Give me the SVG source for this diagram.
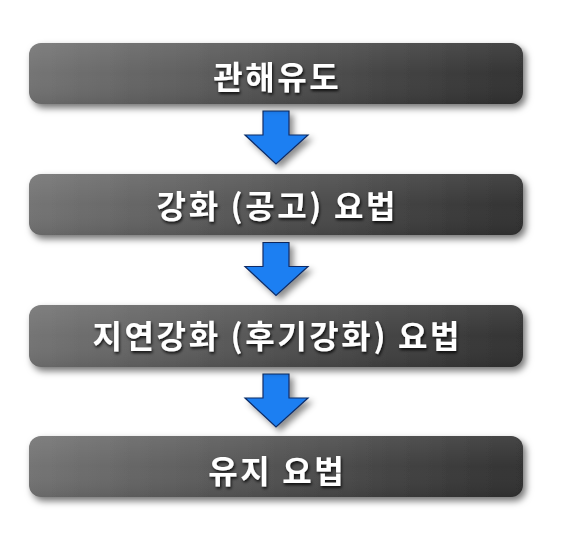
<svg xmlns="http://www.w3.org/2000/svg" width="567" height="555" viewBox="0 0 567 555">
  <defs>
    <linearGradient id="boxGrad" x1="0" y1="0" x2="1" y2="0">
      <stop offset="0" stop-color="#727272"/>
      <stop offset="0.5" stop-color="#505050"/>
      <stop offset="1" stop-color="#2f2f2f"/>
    </linearGradient>
    <linearGradient id="boxSheen" x1="0" y1="0" x2="0" y2="1">
      <stop offset="0" stop-color="#ffffff" stop-opacity="0.10"/>
      <stop offset="0.5" stop-color="#ffffff" stop-opacity="0.02"/>
      <stop offset="1" stop-color="#000000" stop-opacity="0.08"/>
    </linearGradient>
    <filter id="boxShadow" x="-5%" y="-20%" width="112%" height="150%">
      <feDropShadow dx="3" dy="4" stdDeviation="3.5" flood-color="#000" flood-opacity="0.55"/>
    </filter>
    <filter id="arrowShadow" x="-30%" y="-30%" width="170%" height="170%">
      <feDropShadow dx="4" dy="4" stdDeviation="3" flood-color="#000" flood-opacity="0.45"/>
    </filter>
    <filter id="textShadow" x="-10%" y="-30%" width="120%" height="170%">
      <feDropShadow dx="1" dy="2" stdDeviation="1.5" flood-color="#000" flood-opacity="0.85"/>
    </filter>
    <path id="arrowShape" d="M263,0 H289 V24 H308 L276,53 L245,24 H263 Z"/>
  </defs>
  <style>
    .box { fill: url(#boxGrad); filter: url(#boxShadow); }
    .sheen { fill: url(#boxSheen); }
    .label { font-family: "Noto Sans CJK KR", "Noto Sans", sans-serif; font-weight: bold; font-size: 32px; letter-spacing: 2.6px; fill: #ffffff; text-anchor: middle; filter: url(#textShadow); }
    .arrow { fill: #1d7ff2; stroke: #0c2c66; stroke-width: 1.2; stroke-linejoin: miter; filter: url(#arrowShadow); }
  </style>
  <rect width="567" height="555" fill="#ffffff"/>

  <g id="connectors">
    <use href="#arrowShape" class="arrow" transform="translate(0,111)"/>
    <use href="#arrowShape" class="arrow" transform="translate(0,242.5)"/>
    <use href="#arrowShape" class="arrow" transform="translate(0,374)"/>
  </g>

  <g id="node1">
    <rect class="box" x="29" y="43" width="494" height="61" rx="12"/>
    <rect class="sheen" x="29" y="43" width="494" height="61" rx="12"/>
    <text class="label" x="277.3" y="89">관해유도</text>
  </g>
  <g id="node2">
    <rect class="box" x="29" y="174" width="494" height="61" rx="12"/>
    <rect class="sheen" x="29" y="174" width="494" height="61" rx="12"/>
    <text class="label" x="277.3" y="218">강화 (공고) 요법</text>
  </g>
  <g id="node3">
    <rect class="box" x="29" y="305" width="494" height="62" rx="12"/>
    <rect class="sheen" x="29" y="305" width="494" height="62" rx="12"/>
    <text class="label" x="277.3" y="348">지연강화 (후기강화) 요법</text>
  </g>
  <g id="node4">
    <rect class="box" x="29" y="436" width="494" height="61" rx="12"/>
    <rect class="sheen" x="29" y="436" width="494" height="61" rx="12"/>
    <text class="label" x="277.3" y="483">유지 요법</text>
  </g>
</svg>
